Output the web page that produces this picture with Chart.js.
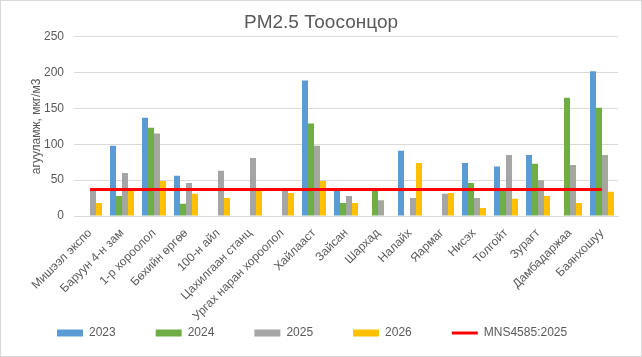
<!DOCTYPE html>
<html>
<head>
<meta charset="utf-8">
<script src="https://cdn.jsdelivr.net/npm/chart.js@4/dist/chart.umd.min.js"></script>
<style>
  html, body { margin: 0; padding: 0; background: #ffffff; }
  #wrap { width: 642px; height: 357px; position: relative; }
</style>
</head>
<body>
<div id="wrap"><canvas id="c" width="642" height="357"></canvas></div>
<script>
const chartTitle = 'PM2.5 Тоосонцор';
const yAxisTitle = 'агууламж, мкг/м3';
const categories = ['Мишээл экспо', 'Баруун 4-н зам', '1-р хороолол', 'Бөхийн өргөө', '100-н айл',
  'Цахилгаан станц', 'Ургах наран хороолол', 'Хайлааст', 'Зайсан', 'Шархад', 'Налайх',
  'Яармаг', 'Нисэх', 'Толгойт', 'Зурагт', 'Дамбадаржаа', 'Баянхошуу'];
const seriesNames = ['2023', '2024', '2025', '2026', 'MNS4585:2025'];
const values2023 = [null, 98, 137, 56, null, null, null, 189, 36, null, 91, null, 74, 69, 85, null, 202];
const values2024 = [null, 28, 123, 17, null, null, null, 129, 18, 36, null, null, 46, 36, 73, 165, 151];
const values2025 = [36, 60, 115, 46, 63, 81, 36, 98, 28, 22, 25, 31, 25, 85, 50, 71, 85];
const values2026 = [18, 36, 49, 31, 25, 36, 32, 49, 18, null, 74, 32, 11, 24, 28, 18, 34];
const standardValues = [37, 37, 37, 37, 37, 37, 37, 37, 37, 37, 37, 37, 37, 37, 37, 37, 37];
const yTicks = [0, 50, 100, 150, 200, 250];

const FONT = '"Liberation Sans", Arial, sans-serif';
const TXT = '#595959';
const GRID = '#d9d9d9';

const borderPlugin = {
  id: 'outerBorder',
  beforeDraw(chart) {
    const ctx = chart.ctx;
    ctx.save();
    ctx.fillStyle = '#ffffff';
    ctx.fillRect(0, 0, chart.width, chart.height);
    ctx.restore();
  },
  afterDraw(chart) {
    const ctx = chart.ctx;
    ctx.save();
    ctx.strokeStyle = GRID;
    ctx.lineWidth = 1;
    ctx.strokeRect(0.5, 0.5, chart.width - 1, chart.height - 1);
    ctx.restore();
  }
};

const barColors = ['#5b9bd5', '#70ad47', '#a5a5a5', '#ffc000'];
const barData = [values2023, values2024, values2025, values2026];

const datasets = barData.map((d, i) => ({
  type: 'bar',
  label: seriesNames[i],
  data: d,
  backgroundColor: barColors[i],
  borderWidth: 0,
  categoryPercentage: 0.75,
  barPercentage: 1.0,
  order: 1
}));
datasets.push({
  type: 'line',
  label: seriesNames[4],
  data: standardValues,
  borderColor: '#ff0000',
  backgroundColor: '#ff0000',
  borderWidth: 3,
  pointRadius: 0,
  fill: false,
  tension: 0,
  order: 0
});

new Chart(document.getElementById('c'), {
  data: { labels: categories, datasets },
  plugins: [borderPlugin],
  options: {
    responsive: false,
    animation: false,
    layout: { padding: { left: 17, right: 17, top: 4, bottom: 8 } },
    plugins: {
      title: {
        display: true,
        text: chartTitle,
        color: TXT,
        font: { family: FONT, size: 19, weight: 'normal', lineHeight: 1.2 },
        padding: { top: 7, bottom: 3 }
      },
      legend: {
        display: true,
        position: 'bottom',
        align: 'start',
        labels: {
          color: TXT,
          font: { family: FONT, size: 12 },
          usePointStyle: true,
          pointStyleWidth: 26,
          boxHeight: 7,
          padding: 40,
          generateLabels(chart) {
            const items = Chart.defaults.plugins.legend.labels.generateLabels(chart);
            items.forEach(it => {
              const ds = chart.data.datasets[it.datasetIndex];
              if (ds.type === 'line') {
                it.pointStyle = 'line';
                it.strokeStyle = '#ff0000';
                it.fillStyle = '#ff0000';
                it.lineWidth = 3;
              } else {
                it.pointStyle = 'rect';
                it.lineWidth = 0;
              }
            });
            items.sort((a, b) => a.datasetIndex - b.datasetIndex);
            return items;
          }
        }
      },
      tooltip: { enabled: false }
    },
    scales: {
      x: {
        grid: { display: false, drawTicks: false },
        border: { display: true, color: GRID, width: 1 },
        ticks: {
          color: TXT,
          font: { family: FONT, size: 12 },
          autoSkip: false,
          minRotation: 45,
          maxRotation: 45,
          padding: 10
        },
        afterFit(scale) {
          scale.height = 71;
          scale._computeLabelArea = () => undefined;
        }
      },
      y: {
        min: 0,
        max: 250,
        afterBuildTicks(scale) { scale.ticks = yTicks.map(v => ({ value: v })); },
        grid: { color: GRID, lineWidth: 1, drawTicks: false },
        border: { display: false },
        ticks: {
          color: TXT,
          font: { family: FONT, size: 12 },
          padding: 10
        },
        title: {
          display: true,
          text: yAxisTitle,
          color: TXT,
          font: { family: FONT, size: 12, weight: 'normal', lineHeight: 1.2 },
          padding: { top: 12, bottom: 0 }
        },
        afterFit(scale) { scale.width = 57; }
      },
      spacer: {
        type: 'linear',
        position: 'right',
        display: true,
        grid: { display: false, drawTicks: false },
        border: { display: false },
        ticks: { display: false },
        afterFit(scale) { scale.width = 7; }
      }
    }
  }
});
</script>
</body>
</html>
